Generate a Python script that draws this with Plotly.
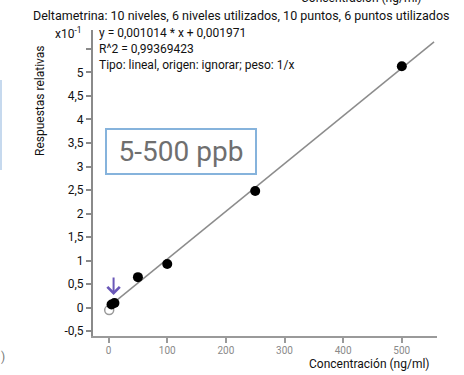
import plotly.graph_objects as go

# ---- data ----
conc_used = [5, 10, 50, 100, 250, 500]
resp_used = [0.07, 0.10, 0.65, 0.93, 2.48, 5.13]
conc_excluded = [1]
resp_excluded = [-0.05]
slope = 0.001014
intercept = 0.001971
scale = 10  # axis shown in x10^-1
fit_x = [0, 555]
fit_y = [(slope * x + intercept) * scale for x in fit_x]

y_tickvals = [-0.5, 0, 0.5, 1, 1.5, 2, 2.5, 3, 3.5, 4, 4.5, 5, 5.5]
y_ticktext = ["-0,5", "0", "0,5", "1", "1,5", "2", "2,5", "3", "3,5", "4", "4,5", "5", " "]
x_tickvals = [0, 100, 200, 300, 400, 500]
x_ticktext = ["0", "100", "200", "300", "400", "500"]

title_text = "Deltametrina: 10 niveles, 6 niveles utilizados, 10 puntos, 6 puntos utilizados"
eq_lines = ["y = 0,001014 * x + 0,001971", "R^2 = 0,99369423",
            "Tipo: lineal, origen: ignorar; peso: 1/x"]

FONT = "Roboto"

fig = go.Figure()
fig.add_trace(go.Scatter(x=fit_x, y=fit_y, mode="lines",
                         line=dict(color="#8c8c8c", width=1.5), hoverinfo="skip"))
fig.add_trace(go.Scatter(x=conc_excluded, y=resp_excluded, mode="markers",
                         marker=dict(symbol="circle-open", size=9, color="#9a9a9a",
                                     line=dict(width=1.5))))
fig.add_trace(go.Scatter(x=conc_used, y=resp_used, mode="markers",
                         marker=dict(symbol="circle", size=10, color="#000000")))

fig.update_layout(
    width=464, height=375,
    margin=dict(l=93, r=27, t=30, b=39),
    paper_bgcolor="white", plot_bgcolor="white",
    showlegend=False,
    font=dict(family=FONT, size=12, color="#111"),
)
fig.update_xaxes(range=[-26.6, 560], showgrid=False, zeroline=False,
                 showline=True, linecolor="#9a9a9a", linewidth=2,
                 ticks="outside", ticklen=5, tickwidth=2, tickcolor="#9a9a9a",
                 ticklabelstandoff=-1,
                 tickvals=x_tickvals, ticktext=x_ticktext,
                 tickfont=dict(size=10, color="#8a8a8a", family=FONT))
fig.update_yaxes(range=[-0.60, 5.9], showgrid=False, zeroline=False,
                 showline=True, linecolor="#8a8a8a", linewidth=2,
                 ticks="outside", ticklen=5, tickwidth=2, tickcolor="#8a8a8a",
                 tickvals=y_tickvals, ticktext=y_ticktext,
                 tickfont=dict(size=12, color="#111", family=FONT))

ann = []
# title
ann.append(dict(xref="paper", yref="paper", x=(241 - 93) / 344, y=1 + (30 - 16) / 306,
                text=title_text, showarrow=False, xanchor="center", yanchor="middle",
                font=dict(size=12.5, color="#111")))
# cut-off text at top
ann.append(dict(xref="paper", yref="paper", x=(361 - 93) / 344, y=1 + (30 + 2) / 306,
                text="Concentración (ng/ml)", showarrow=False, xanchor="center", yanchor="middle",
                font=dict(size=12, color="#111")))
# equation lines
for i, t in enumerate(eq_lines):
    ann.append(dict(xref="paper", yref="paper", x=(97 - 93) / 344,
                    y=1 - (33 + 16 * i - 30) / 306,
                    text=t, showarrow=False, xanchor="left", yanchor="middle",
                    font=dict(size=12, color="#111")))
# x10^-1
ann.append(dict(xref="paper", yref="paper", x=(83 - 93) / 344, y=1 - (33 - 30) / 306,
                text="x10<sup>-1</sup>", showarrow=False, xanchor="right", yanchor="middle",
                font=dict(size=12, color="#111")))
# y title
ann.append(dict(xref="paper", yref="paper", x=(40 - 93) / 344, y=1 - (101 - 30) / 306,
                text="Respuestas relativas", textangle=-90, showarrow=False,
                xanchor="center", yanchor="middle", font=dict(size=12, color="#111")))
# x title
ann.append(dict(xref="paper", yref="paper", x=(369 - 93) / 344, y=-(364 - 336) / 306,
                text="Concentración (ng/ml)", showarrow=False,
                xanchor="center", yanchor="middle", font=dict(size=12, color="#111")))
# 5-500 ppb box
ann.append(dict(xref="paper", yref="paper", x=(181 - 93) / 344, y=1 - (151.5 - 30) / 306,
                text="5-500 ppb", showarrow=False, xanchor="center", yanchor="middle",
                width=146, height=41, bordercolor="#86b3dc", borderwidth=2, bgcolor="white",
                font=dict(size=28, color="#6f6f6f")))
# purple arrow
ann.append(dict(x=8.5, y=0.27, xref="x", yref="y", ax=0, ay=-19, text="",
                showarrow=True, arrowhead=4, arrowsize=1.2, arrowwidth=2, arrowcolor="#6a58b8"))
# left-edge fragments
ann.append(dict(xref="paper", yref="paper", x=(3 - 93) / 344, y=-(357 - 336) / 306,
                text=")", showarrow=False, xanchor="center", yanchor="middle",
                font=dict(size=12, color="#777")))
fig.update_layout(annotations=ann)
fig.add_shape(type="line", xref="paper", yref="paper",
              x0=(1 - 93) / 344, x1=(1 - 93) / 344,
              y0=1 - (80 - 30) / 306, y1=1 - (170 - 30) / 306,
              line=dict(color="#c6d9ee", width=2))

fig.write_html("out.html")
